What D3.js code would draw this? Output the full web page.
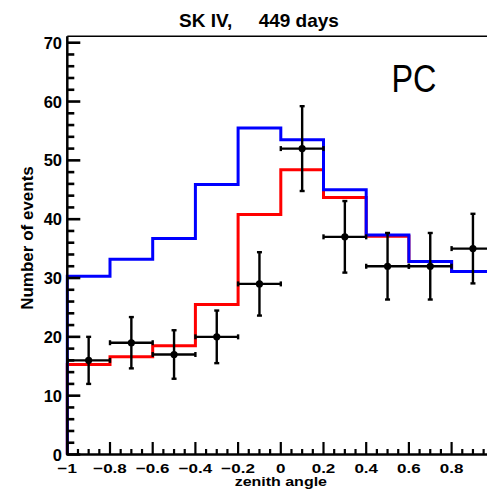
<!DOCTYPE html>
<html>
<head>
<meta charset="utf-8">
<script src="https://cdn.jsdelivr.net/npm/d3@7"></script>
<style>
  html, body { margin: 0; padding: 0; background: #fff; }
  svg { display: block; }
  text { font-family: "Liberation Sans", Arial, sans-serif; }
</style>
</head>
<body>
<svg id="chart" width="487" height="490"></svg>
<script>
// Zenith-angle bins (lower edges, width 0.2)
const binEdges = [-1, -0.8, -0.6, -0.4, -0.2, 0, 0.2, 0.4, 0.6, 0.8, 1];
// Expected events, no oscillation (blue)
const noOscValues = [30.3, 33.2, 36.7, 45.9, 55.5, 53.5, 45.0, 37.3, 32.8, 31.1];
// Expected events, with oscillation (red)
const oscValues = [15.3, 16.6, 18.5, 25.5, 40.8, 48.4, 43.7, 37.1, 32.8, 31.1];
// Observed data (black points, Poisson errors)
const dataValues = [16, 19, 17, 20, 29, 52, 37, 32, 32, 35];
const xTickValues = [-1, -0.8, -0.6, -0.4, -0.2, 0, 0.2, 0.4, 0.6, 0.8];
const yTickValues = [0, 10, 20, 30, 40, 50, 60, 70];

const svg = d3.select("#chart");

const x = d3.scaleLinear().domain([-1, 1]).range([67.3, 494.3]);
const y = d3.scaleLinear().domain([0, 70]).range([454.5, 42.7]);
const yTop = 71.1;

// Title
svg.append("text")
  .attr("x", 259).attr("y", 27)
  .attr("text-anchor", "middle")
  .attr("font-size", 19).attr("font-weight", "bold")
  .style("white-space", "pre")
  .text("SK IV,     449 days");

// Frame top edge
svg.append("line")
  .attr("x1", x(-1)).attr("x2", 487)
  .attr("y1", y(yTop)).attr("y2", y(yTop))
  .attr("stroke", "#000").attr("stroke-width", 1.5);

// Step-histogram path
function histPath(vals) {
  const pts = [[x(binEdges[0]), y(0)]];
  vals.forEach((v, i) => {
    pts.push([x(binEdges[i]), y(v)]);
    pts.push([x(binEdges[i + 1]), y(v)]);
  });
  return d3.line()(pts);
}

svg.append("path")
  .attr("d", histPath(oscValues))
  .attr("fill", "none").attr("stroke", "#ff0000").attr("stroke-width", 3);

svg.append("path")
  .attr("d", histPath(noOscValues))
  .attr("fill", "none").attr("stroke", "#0000ff").attr("stroke-width", 3);

// Axes
const gx = svg.append("g").attr("stroke", "#000");
gx.append("line")
  .attr("x1", x(-1)).attr("x2", 487)
  .attr("y1", y(0)).attr("y2", y(0)).attr("stroke-width", 2.5);
d3.range(-1, 1.0001, 0.05).forEach(v => {
  const major = Math.abs(Math.round(v * 5) - v * 5) < 1e-6;
  gx.append("line")
    .attr("x1", x(v)).attr("x2", x(v))
    .attr("y1", y(0)).attr("y2", y(0) - (major ? 12.5 : 5.5))
    .attr("stroke-width", 2.2);
});
// x tick labels: wide, slightly flattened lettering
svg.selectAll(".xlab").data(xTickValues).enter().append("text")
  .attr("class", "xlab")
  .attr("transform", d => `translate(${x(d)},473) scale(1,0.8)`)
  .attr("text-anchor", "middle")
  .attr("font-size", 17).attr("font-weight", "bold")
  .text(d => d3.format("")(d));

const gy = svg.append("g").attr("stroke", "#000");
gy.append("line")
  .attr("x1", x(-1)).attr("x2", x(-1))
  .attr("y1", y(0) + 1).attr("y2", y(yTop)).attr("stroke-width", 2.5);
d3.range(0, 71, 2).forEach(v => {
  const major = v % 10 === 0;
  gy.append("line")
    .attr("x1", x(-1)).attr("x2", x(-1) + (major ? 13 : 7))
    .attr("y1", y(v)).attr("y2", y(v))
    .attr("stroke-width", 2.6);
});
svg.selectAll(".ylab").data(yTickValues).enter().append("text")
  .attr("class", "ylab")
  .attr("x", 62).attr("y", d => y(d) + 6)
  .attr("text-anchor", "end")
  .attr("font-size", 16.5).attr("font-weight", "bold")
  .text(d => d);

// Axis titles
svg.append("text")
  .attr("transform", `translate(${x(0)},485.5) scale(1,0.78)`)
  .attr("text-anchor", "middle")
  .attr("font-size", 16).attr("font-weight", "bold")
  .text("zenith angle");
svg.append("text")
  .attr("transform", "translate(33,238) rotate(-90)")
  .attr("text-anchor", "middle")
  .attr("font-size", 17).attr("font-weight", "bold")
  .text("Number of events");

// Sample label
svg.append("text")
  .attr("x", 391.5).attr("y", 91.5)
  .attr("font-family", "'Open Sans', 'Noto Sans', sans-serif")
  .attr("font-size", 38)
  .attr("textLength", 45).attr("lengthAdjust", "spacingAndGlyphs")
  .text("PC");

// Data points with error bars
const pts = svg.append("g").attr("stroke", "#000").attr("stroke-width", 2.4);
dataValues.forEach((v, i) => {
  const x0 = x(binEdges[i]), x1 = x(binEdges[i + 1]);
  const xc = (x0 + x1) / 2;
  const err = Math.sqrt(v);
  const yc = y(v), yh = y(v + err), yl = y(v - err);
  pts.append("line").attr("x1", x0).attr("x2", x1).attr("y1", yc).attr("y2", yc);
  pts.append("line").attr("x1", xc).attr("x2", xc).attr("y1", yh).attr("y2", yl);
  // end caps
  pts.append("line").attr("x1", xc - 2.5).attr("x2", xc + 2.5).attr("y1", yh).attr("y2", yh);
  pts.append("line").attr("x1", xc - 2.5).attr("x2", xc + 2.5).attr("y1", yl).attr("y2", yl);
  pts.append("line").attr("x1", x0).attr("x2", x0).attr("y1", yc - 2.5).attr("y2", yc + 2.5);
  pts.append("line").attr("x1", x1).attr("x2", x1).attr("y1", yc - 2.5).attr("y2", yc + 2.5);
  pts.append("circle").attr("cx", xc).attr("cy", yc).attr("r", 3.6)
    .attr("fill", "#000").attr("stroke", "none");
});
</script>
</body>
</html>
